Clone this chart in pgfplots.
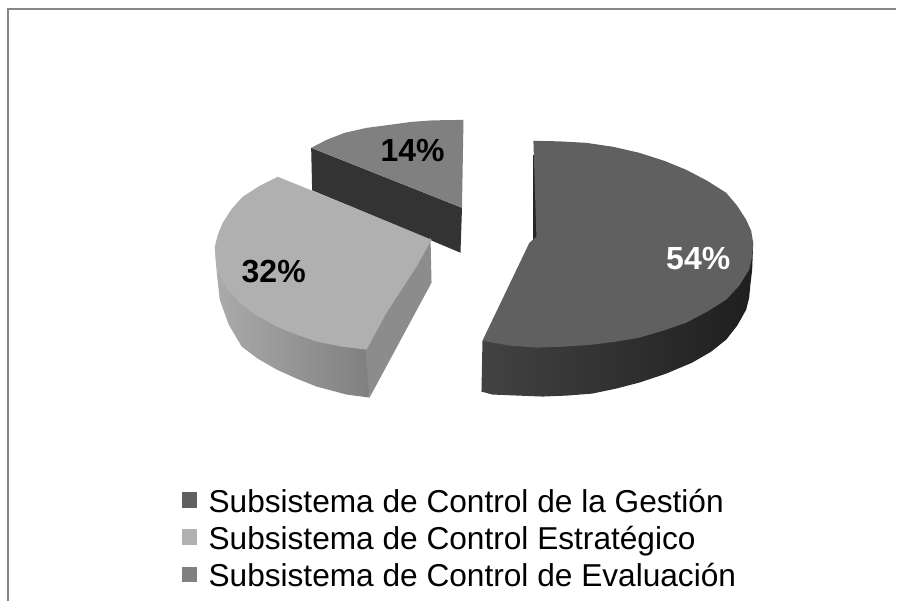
\documentclass[border=0pt]{standalone}
\usepackage{pgfplots}
\pgfplotsset{compat=1.18}
\usepackage{fontspec}
\setmainfont{Liberation Sans}
\definecolor{top54}{HTML}{606060}
\definecolor{top32}{HTML}{B0B0B0}
\definecolor{top14}{HTML}{808080}
\definecolor{side14}{HTML}{333333}
\begin{document}
\begin{tikzpicture}
\begin{axis}[
  scale only axis, width=672.75pt, height=451.5pt,
  xmin=0, xmax=897, ymin=0, ymax=602, y dir=reverse,
  axis line style={draw=none}, ticks=none, clip=false,
  legend style={at={(0.2029,0.191)}, anchor=north west, draw=none, fill=none,
    inner sep=0pt, outer sep=0pt, row sep=5pt, font=\fontsize{23.75pt}{28pt}\selectfont,
    /tikz/every odd column/.style={column sep=6.5pt}},
  legend cell align=left,
  legend image code/.code={\fill[#1] (0pt,-4.3pt) rectangle (11.6pt,7.3pt);},
]
% frame
\addplot[forget plot, color=black!47, line width=1.5pt] coordinates {(8.5,602)(8.5,9)(897,9)};

% 14 % side wall first, so the 32 % top lies over its lower edge
\addplot[forget plot, draw=none, fill=side14] coordinates {(311.5,148)(462.5,208)(461,253)(312.5,190.5)} -- cycle;

% 54 % slice: side wall, sliver, then top
\addplot[forget plot, draw=none, left color=black!74, right color=black!88] coordinates {
 (483,341)(482,392)(493,395)(518,396)(543,397)(568,396)(593,394)(617,389)(640,383)(667,374)(693,363)(712,352)(727,340)(738,326)(747,310)(750,298)(751,287)(753,270)(754,243)(720,290)(640,330)(540,345)} -- cycle;
\addplot[forget plot, draw=none, fill=black!85] coordinates {(533.5,155)(533.5,240)(538,240)(538,155)} -- cycle;
\addplot[draw=none, fill=top54] coordinates {
 (534,141)(560,141.5)(587,143)(614,147)(640,153)(665,161)(687,170)(708,181)(727,193)(738,206)(747,220)(752,231)(754,243)(753,257)(750,270)(740,286)(727,300)(708,312)(687,323)(664,331)(640,338)(617,342)(593,345)(565,347)(537,348)(510,346)(483,341)(507,291)(530,243)(537,237)} -- cycle;
\addlegendentry{Subsistema de Control de la Gestión}

% 32 % slice
\addplot[forget plot, draw=none, left color=black!33, right color=black!50] coordinates {
 (215,247)(217,273)(220,300)(229,325)(242,347)(258,359)(277,370)(297,379)(317,387)(347,395)(370,398)(368,350)(317,340)(277,325)(240,303)(218,273)} -- cycle;
\addplot[forget plot, draw=none, fill=black!45] coordinates {(366,350)(385,312)(400,288)(415,265)(431,238)(432,283)(370,398)} -- cycle;
\addplot[draw=none, fill=top32] coordinates {
 (278,177)(260,186)(243,197)(232,209)(223,223)(218,235)(215,247)(216,260)(218,273)(227,289)(240,303)(257,316)(277,327)(297,335)(317,342)(342,347)(367,350)(387,313)(402,290)(417,267)(432,240)(350,206)} -- cycle;
\addlegendentry{Subsistema de Control Estratégico}

% 14 % slice top
\addplot[draw=none, fill=top14] coordinates {
 (311.5,148)(327,140)(345,133)(367,128)(390,125)(412,122)(433,120.5)(464,120)(462.5,208)} -- cycle;
\addlegendentry{Subsistema de Control de Evaluación}

% data labels
\node[font=\fontsize{24pt}{28pt}\selectfont\bfseries, text=white] at (axis cs:699,259) {54\%};
\node[font=\fontsize{24pt}{28pt}\selectfont\bfseries, text=black] at (axis cs:274,272) {32\%};
\node[font=\fontsize{24pt}{28pt}\selectfont\bfseries, text=black] at (axis cs:413,151) {14\%};
\end{axis}
\end{tikzpicture}
\end{document}
